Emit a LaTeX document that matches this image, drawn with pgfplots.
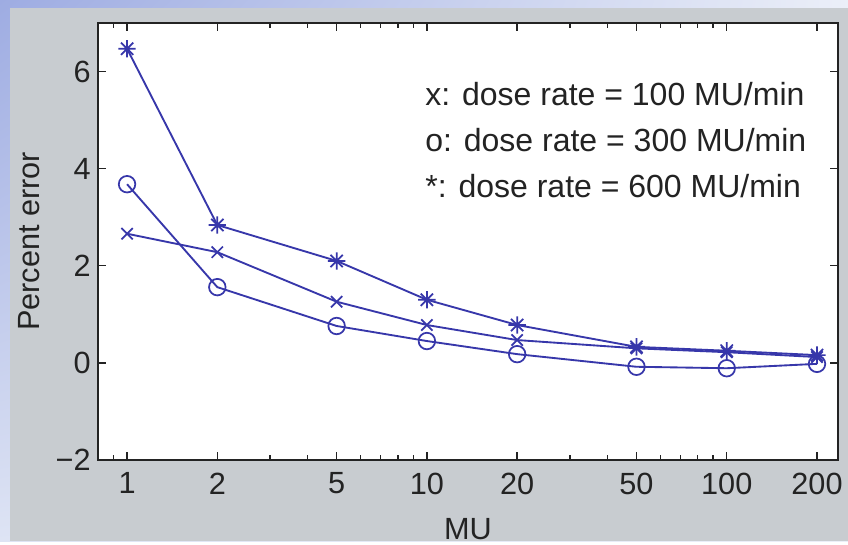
\documentclass[border=0pt]{standalone}
\usepackage{pgfplots}
\pgfplotsset{compat=1.18}
\usetikzlibrary{shadings}
\usepackage{fontspec}
\setmainfont{Liberation Sans}

\definecolor{lineblue}{RGB}{55,55,170}
\definecolor{figgrey}{RGB}{200,204,208}
\definecolor{frameblue}{RGB}{158,172,226}
\definecolor{framelight}{RGB}{222,228,244}
\definecolor{txt}{RGB}{35,35,35}

% eight-armed asterisk like the MATLAB '*'
\pgfdeclareplotmark{star8}{%
  \pgfpathmoveto{\pgfpoint{-\pgfplotmarksize}{0pt}}%
  \pgfpathlineto{\pgfpoint{\pgfplotmarksize}{0pt}}%
  \pgfpathmoveto{\pgfpoint{0pt}{-\pgfplotmarksize}}%
  \pgfpathlineto{\pgfpoint{0pt}{\pgfplotmarksize}}%
  \pgfpathmoveto{\pgfpoint{-0.707\pgfplotmarksize}{-0.707\pgfplotmarksize}}%
  \pgfpathlineto{\pgfpoint{0.707\pgfplotmarksize}{0.707\pgfplotmarksize}}%
  \pgfpathmoveto{\pgfpoint{-0.707\pgfplotmarksize}{0.707\pgfplotmarksize}}%
  \pgfpathlineto{\pgfpoint{0.707\pgfplotmarksize}{-0.707\pgfplotmarksize}}%
  \pgfusepathqstroke}

\begin{document}
\begin{tikzpicture}
% backgrounds, in pixels of the reference (axis box lower left at 0,0)
\begin{scope}[x=0.75pt,y=0.75pt]
  \useasboundingbox (-98,-81) rectangle (750,460);
  \shade[upper left=frameblue, upper right=framelight!60!white,
         lower left=framelight, lower right=framelight!60!white]
        (-98,-81) rectangle (750,460);
  \fill[figgrey] (-88,-81) rectangle (750,452);
\end{scope}

\begin{axis}[
  at={(0,0)}, anchor=south west,
  scale only axis,
  width=555pt, height=327.75pt,
  xmode=log,
  xmin=0.8, xmax=235,
  ymin=-2, ymax=7,
  xtick={1,2,5,10,20,50,100,200},
  xticklabels={1,2,5,10,20,50,100,200},
  minor xtick={0.9,3,4,6,7,8,9,30,40,60,70,80,90},
  ytick={-2,0,2,4,6},
  yticklabels={−2,0,2,4,6},
  tick align=inside,
  major tick length=6pt,
  minor tick length=3.5pt,
  every tick/.style={line width=1pt, txt},
  axis line style={line width=1.3pt, txt},
  axis background/.style={fill=white},
  tick label style={font=\fontsize{23}{27}\selectfont, text=txt},
  /pgf/number format/assume math mode=true,
  xticklabel style={yshift=-6pt},
  yticklabel style={xshift=-2pt},
  xlabel={MU},
  ylabel={Percent error},
  label style={font=\fontsize{23}{27}\selectfont, text=txt},
  xlabel style={at={(axis description cs:0.5,0)}, anchor=center, yshift=-52pt},
  ylabel style={at={(axis description cs:0,0.5)}, anchor=center, rotate=0, yshift=52pt},
  every axis plot/.append style={lineblue, line width=1.4pt},
  clip=false,
]
% x: 100 MU/min
\addplot[mark=x, mark size=6pt, mark options={line width=1.3pt}] coordinates {
  (1,2.66) (2,2.28) (5,1.26) (10,0.78) (20,0.47) (50,0.30) (100,0.22) (200,0.12)
};
% o: 300 MU/min
\addplot[mark=o, mark size=6.2pt, mark options={line width=1.3pt}] coordinates {
  (1,3.68) (2,1.56) (5,0.76) (10,0.45) (20,0.18) (50,-0.08) (100,-0.11) (200,-0.02)
};
% *: 600 MU/min
\addplot[mark=star8, mark size=6.5pt, mark options={line width=1.3pt}] coordinates {
  (1,6.47) (2,2.84) (5,2.10) (10,1.30) (20,0.78) (50,0.33) (100,0.25) (200,0.16)
};

\node[anchor=north west, align=left, text=txt,
      font=\fontsize{24}{34.5}\selectfont, inner sep=0pt]
  at (rel axis cs:0.442,0.865)
  {x: dose rate = 100 MU/min\\o: dose rate = 300 MU/min\\*: dose rate = 600 MU/min};
\end{axis}
\end{tikzpicture}
\end{document}
